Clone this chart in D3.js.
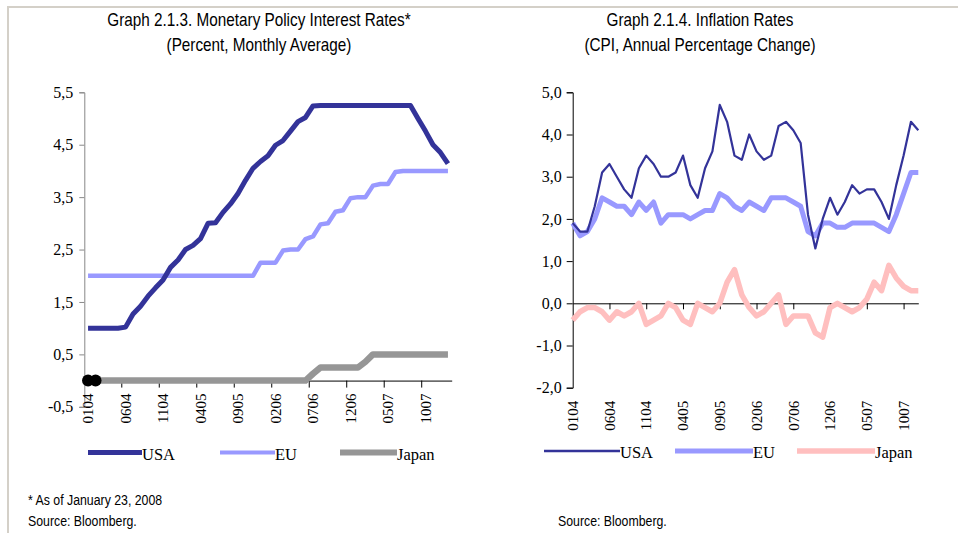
<!DOCTYPE html>
<html>
<head>
<meta charset="utf-8">
<script src="https://cdnjs.cloudflare.com/ajax/libs/d3/7.8.5/d3.min.js"></script>
<style>
  body { margin: 0; background: #fff; }
  svg { display: block; }
  .title, .note { font-family: "Liberation Sans Narrow", "Arial Narrow", "Liberation Sans", sans-serif; fill: #000; }
  .title { font-size: 18px; }
  .note { font-size: 14.5px; }
  .axis text { font-family: "Liberation Serif", "Times New Roman", serif; font-size: 16px; fill: #000; }
  .axis.cat text { font-size: 15px; }
  .legend text { font-family: "Liberation Serif", "Times New Roman", serif; font-size: 16.5px; fill: #000; }
</style>
</head>
<body>
<svg id="chart" width="958" height="533"></svg>
<script>
  // months as MMYY, January 2004 to January 2008
  var months = ["0104","0204","0304","0404","0504","0604","0704","0804","0904","1004","1104","1204",
                "0105","0205","0305","0405","0505","0605","0705","0805","0905","1005","1105","1205",
                "0106","0206","0306","0406","0506","0606","0706","0806","0906","1006","1106","1206",
                "0107","0207","0307","0407","0507","0607","0707","0807","0907","1007","1107","1207",
                "0108"];
  var tickMonths = ["0104","0604","1104","0405","0905","0206","0706","1206","0507","1007"];
  var seriesNames = ["USA", "EU", "Japan"];

  // Graph 2.1.3 policy rates, percent, monthly average
  var ratesUSA = [1.00,1.00,1.00,1.00,1.00,1.02,1.27,1.42,1.61,1.77,1.92,2.16,
                  2.30,2.50,2.58,2.71,3.00,3.01,3.21,3.37,3.57,3.82,4.05,4.18,
                  4.29,4.49,4.58,4.76,4.94,5.02,5.24,5.25,5.25,5.25,5.25,5.25,
                  5.25,5.25,5.25,5.25,5.25,5.25,5.25,5.25,5.00,4.76,4.50,4.35,
                  4.14];
  var ratesEU = [2.00,2.00,2.00,2.00,2.00,2.00,2.00,2.00,2.00,2.00,2.00,2.00,
                 2.00,2.00,2.00,2.00,2.00,2.00,2.00,2.00,2.00,2.00,2.00,2.25,
                 2.25,2.25,2.48,2.50,2.50,2.70,2.75,2.98,3.00,3.22,3.25,3.48,
                 3.50,3.50,3.72,3.75,3.75,3.98,4.00,4.00,4.00,4.00,4.00,4.00,
                 4.00];
  var ratesJapan = [0,0,0,0,0,0,0,0,0,0,0,0,
                    0,0,0,0,0,0,0,0,0,0,0,0,
                    0,0,0,0,0,0,0.13,0.25,0.25,0.25,0.25,0.25,
                    0.25,0.36,0.50,0.50,0.50,0.50,0.50,0.50,0.50,0.50,0.50,0.50,
                    0.50];
  var rateTicks = [5.5, 4.5, 3.5, 2.5, 1.5, 0.5, -0.5];

  // Graph 2.1.4 CPI, annual percentage change, January 2004 to December 2007
  var inflationUSA = [1.9,1.7,1.7,2.3,3.1,3.3,3.0,2.7,2.5,3.2,3.5,3.3,
                      3.0,3.0,3.1,3.5,2.8,2.5,3.2,3.6,4.7,4.3,3.5,3.4,
                      4.0,3.6,3.4,3.5,4.2,4.3,4.1,3.8,2.1,1.3,2.0,2.5,
                      2.1,2.4,2.8,2.6,2.7,2.7,2.4,2.0,2.8,3.5,4.3,4.1];
  var inflationEU = [1.9,1.6,1.7,2.0,2.5,2.4,2.3,2.3,2.1,2.4,2.2,2.4,
                     1.9,2.1,2.1,2.1,2.0,2.1,2.2,2.2,2.6,2.5,2.3,2.2,
                     2.4,2.3,2.2,2.5,2.5,2.5,2.4,2.3,1.7,1.6,1.9,1.9,
                     1.8,1.8,1.9,1.9,1.9,1.9,1.8,1.7,2.1,2.6,3.1,3.1];
  var inflationJapan = [-0.4,-0.2,-0.1,-0.1,-0.2,-0.4,-0.2,-0.3,-0.2,0.0,-0.5,-0.4,
                        -0.3,0.0,-0.1,-0.4,-0.5,0.0,-0.1,-0.2,0.0,0.5,0.8,0.2,
                        -0.1,-0.3,-0.2,0.0,0.2,-0.5,-0.3,-0.3,-0.3,-0.7,-0.8,-0.1,
                        0.0,-0.1,-0.2,-0.1,0.1,0.5,0.3,0.9,0.6,0.4,0.3,0.3];
  var inflationTicks = [5, 4, 3, 2, 1, 0, -1, -2];

  var svg = d3.select("#chart");
  var commaFormat = d3.formatLocale({decimal: ",", thousands: ".", grouping: [3], currency: ["", ""], minus: "-"}).format(".1f");

  // no narrow font installed, so squeeze the sans text sideways
  var narrow = 0.85;

  // page frame
  svg.append("line").attr("x1", 7).attr("x2", 958).attr("y1", 7).attr("y2", 7)
     .style("stroke", "#d4d0c8").style("stroke-width", 2);
  svg.append("line").attr("x1", 8).attr("x2", 8).attr("y1", 6).attr("y2", 533)
     .style("stroke", "#d4d0c8").style("stroke-width", 2);

  function narrow_text(cls, x, y, anchor, str) {
    return svg.append("text")
      .attr("class", cls)
      .attr("transform", "translate(" + x + "," + y + ") scale(" + narrow + ",1)")
      .attr("text-anchor", anchor)
      .text(str);
  }

  function add_title(cx, lines) {
    lines.forEach(function(line, i) {
      narrow_text("title", cx, 26 + i * 25, "middle", line);
    });
  }

  function draw_legend(items, y) {
    var g = svg.append("g").attr("class", "legend");
    items.forEach(function(it) {
      g.append("line").attr("x1", it.x1).attr("x2", it.x2).attr("y1", y).attr("y2", y)
        .style("stroke", it.color).style("stroke-width", it.width);
      g.append("text").attr("x", it.x2).attr("y", y + 7).text(it.name);
    });
  }

  function draw_series(values, x, y, color, width) {
    var line = d3.line()
      .x(function(d, i) { return x(i); })
      .y(function(d) { return y(d); });
    return svg.append("path")
      .datum(values)
      .attr("d", line)
      .style("fill", "none")
      .style("stroke", color)
      .style("stroke-width", width)
      .style("stroke-linejoin", "round");
  }

  // ---------- Graph 2.1.3 ----------
  add_title(259, ["Graph 2.1.3. Monetary Policy Interest Rates*", "(Percent, Monthly Average)"]);

  var xRate = d3.scaleBand().domain(months).range([84.3, 451.7]);
  var yRate = d3.scaleLinear().domain([-0.5, 5.5]).range([406.8, 92.3]);
  var xRateAt = function(i) { return xRate(months[i]) + xRate.bandwidth() / 2; };

  var yAxisL = svg.append("g").attr("class", "axis")
    .attr("transform", "translate(84.3,0)")
    .call(d3.axisLeft(yRate).tickValues(rateTicks).tickSize(5).tickPadding(6).tickFormat(commaFormat));
  yAxisL.selectAll("path, line").style("stroke", "#888");

  // category axis crosses at zero, ticks between categories
  var xAxisL = svg.append("g").attr("class", "axis cat")
    .attr("transform", "translate(0," + yRate(0) + ")")
    .call(d3.axisBottom(xRate).tickValues(tickMonths).tickSize(0).tickSizeOuter(0));
  xAxisL.select(".domain").style("stroke", "#000");
  xAxisL.selectAll("text")
    .attr("transform", "rotate(-90)")
    .attr("x", -13).attr("y", 0).attr("dy", "0.35em")
    .style("text-anchor", "end");
  xAxisL.selectAll(".boundary")
    .data(tickMonths.slice(1))
    .enter().append("line")
    .attr("x1", function(d) { return xRate(d); })
    .attr("x2", function(d) { return xRate(d); })
    .attr("y1", 0).attr("y2", 7)
    .style("stroke", "#000");

  draw_series(ratesJapan, xRateAt, yRate, "#969696", 6.5);
  draw_series(ratesEU, xRateAt, yRate, "#9999ff", 4.5);
  draw_series(ratesUSA, xRateAt, yRate, "#333399", 5);

  // the first two Japan points carry markers
  svg.selectAll(".marker")
    .data(ratesJapan.slice(0, 2))
    .enter().append("circle")
    .attr("cx", function(d, i) { return xRateAt(i); })
    .attr("cy", function(d) { return yRate(d); })
    .attr("r", 6)
    .style("fill", "#000");

  draw_legend([
    {name: seriesNames[0], x1: 88, x2: 142, color: "#333399", width: 5},
    {name: seriesNames[1], x1: 220, x2: 275, color: "#9999ff", width: 4},
    {name: seriesNames[2], x1: 340, x2: 397, color: "#969696", width: 6}
  ], 452.5);

  // ---------- Graph 2.1.4 ----------
  add_title(700, ["Graph 2.1.4. Inflation Rates", "(CPI, Annual Percentage Change)"]);

  var months48 = months.slice(0, 48);
  var xInf = d3.scalePoint().domain(months48).range([572.7, 918.3]);
  var yInf = d3.scaleLinear().domain([-2, 5]).range([387.7, 92.3]);
  var xInfAt = function(i) { return xInf(months48[i]); };

  svg.append("g").attr("class", "axis")
    .attr("transform", "translate(572.7,0)")
    .call(d3.axisLeft(yInf).tickValues(inflationTicks).tickSize(6).tickPadding(5).tickFormat(commaFormat));

  // axis line at zero with ticks, labels at the bottom
  var xAxisR = svg.append("g").attr("class", "axis")
    .attr("transform", "translate(0," + yInf(0) + ")")
    .call(d3.axisBottom(xInf).tickValues(tickMonths).tickSize(6).tickSizeOuter(0).tickFormat(""));
  xAxisR.selectAll(".tick").filter(function(d, i) { return i == 0; }).remove();

  svg.append("g").attr("class", "axis cat")
    .selectAll("text")
    .data(tickMonths)
    .enter().append("text")
    .attr("transform", function(d) { return "translate(" + xInf(d) + "," + (yInf(-2) + 13) + ") rotate(-90)"; })
    .attr("dy", "0.35em")
    .style("text-anchor", "end")
    .text(function(d) { return d; });

  draw_series(inflationJapan, xInfAt, yInf, "#ffbfbf", 5.5);
  draw_series(inflationEU, xInfAt, yInf, "#9999ff", 5);
  draw_series(inflationUSA, xInfAt, yInf, "#333399", 2.2);

  draw_legend([
    {name: seriesNames[0], x1: 544, x2: 620, color: "#333399", width: 2.5},
    {name: seriesNames[1], x1: 675, x2: 753, color: "#9999ff", width: 5},
    {name: seriesNames[2], x1: 797, x2: 875, color: "#ffbfbf", width: 5.5}
  ], 451);

  // ---------- notes ----------
  narrow_text("note", 28, 505, "start", "* As of January 23, 2008");
  narrow_text("note", 28, 526, "start", "Source: Bloomberg.");
  narrow_text("note", 558, 526, "start", "Source: Bloomberg.");
</script>
</body>
</html>
